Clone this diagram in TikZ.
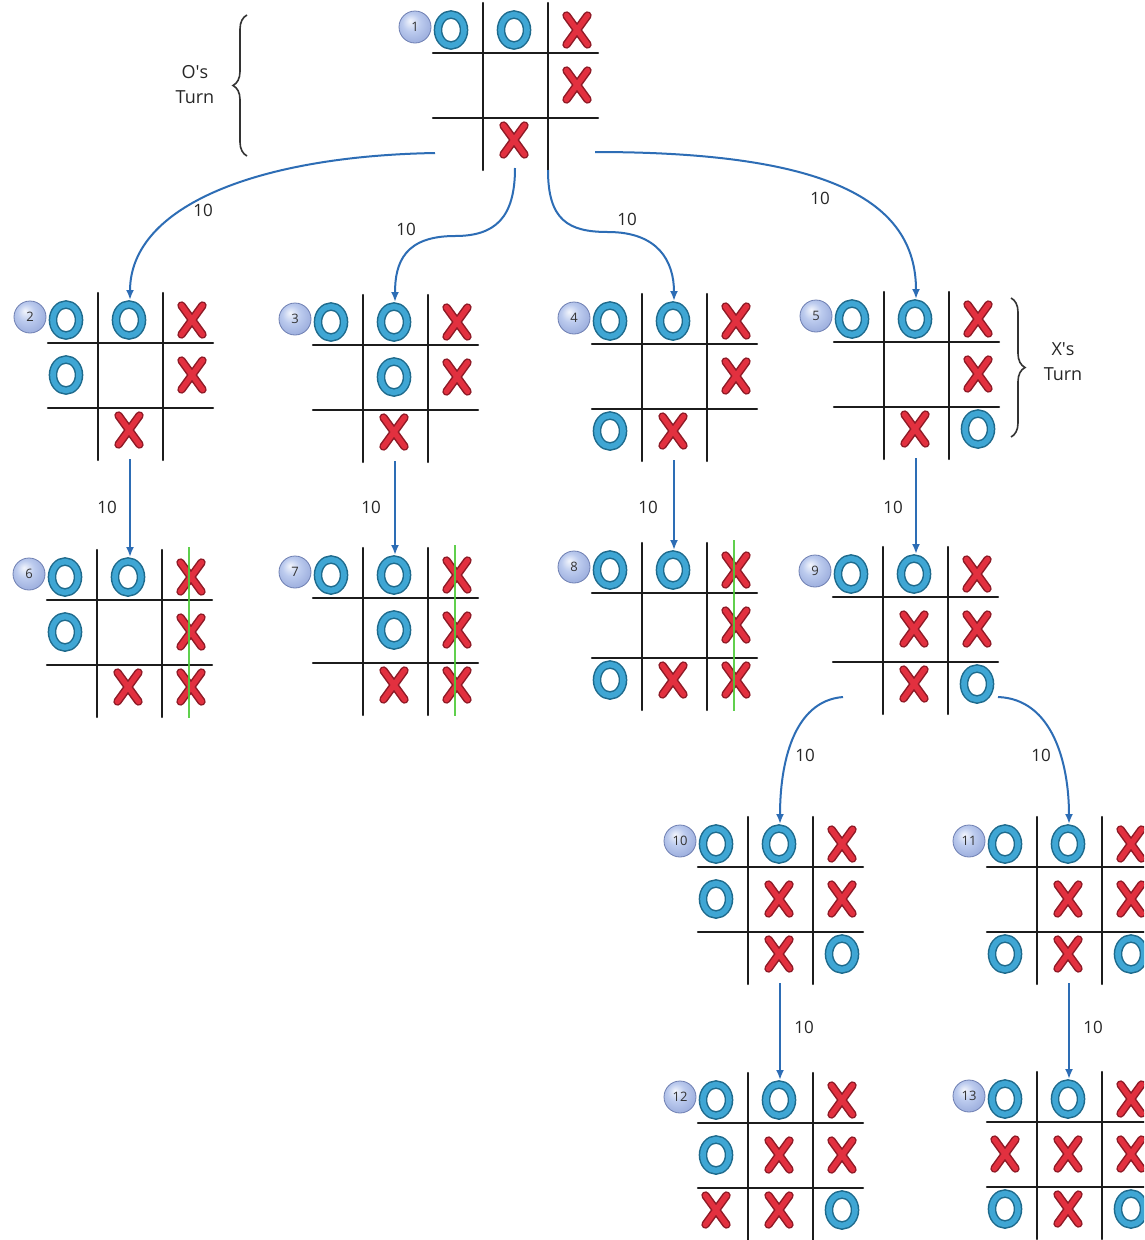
\documentclass[tikz,border=0pt]{standalone}
\usepackage{fontspec}
\setmainfont{Open Sans}
\usetikzlibrary{arrows.meta,decorations.pathreplacing}

\definecolor{oedge}{HTML}{1E6A8C}
\definecolor{ofill}{HTML}{3FA6D4}
\definecolor{xedge}{HTML}{8E1A26}
\definecolor{xfill}{HTML}{E2303F}
\definecolor{gridc}{HTML}{1C1C1C}
\definecolor{arrc}{HTML}{2D6DB5}
\definecolor{winc}{HTML}{4FCB3A}
\definecolor{bubA}{HTML}{F2F5FC}
\definecolor{bubB}{HTML}{BCCBEE}
\definecolor{bubC}{HTML}{98AADB}
\definecolor{bubEdge}{HTML}{6E7FB2}

\pgfdeclareradialshading{bubbleshade}{\pgfpoint{-8bp}{10bp}}{color(0bp)=(bubA); color(14bp)=(bubB); color(32bp)=(bubC); color(50bp)=(bubC)}

% one O mark centred at (#1,#2)
\newcommand\tttO[2]{%
  \draw[draw=oedge, line width=8.6pt] (#1,#2) ellipse [x radius=13, y radius=15.5];
  \draw[draw=ofill, line width=5.6pt] (#1,#2) ellipse [x radius=13, y radius=15.5];}
% one X mark centred at (#1,#2)
\newcommand\tttX[2]{%
  \draw[draw=xedge, line width=8.4pt, line cap=round] (#1-10.5,#2-14.5) -- (#1+10.5,#2+14.5) (#1-10.5,#2+14.5) -- (#1+10.5,#2-14.5);
  \draw[draw=xfill, line width=5.4pt, line cap=round] (#1-10.5,#2-14.5) -- (#1+10.5,#2+14.5) (#1-10.5,#2+14.5) -- (#1+10.5,#2-14.5);}

% board: #1 name, (#2,#3) crossing of the first grid lines, #4 step number, #5 marks as type/column/row
\newcommand\tttboard[5]{%
  \begin{scope}[shift={(#2,#3)}]
    \draw[gridline] (0,-50) -- (0,117) (65,-50) -- (65,117) (-50,0) -- (115,0) (-50,65) -- (115,65);
    \foreach \m/\c/\r in {#5}{%
      \pgfmathsetmacro\mx{-32+63*(\c-1)}%
      \pgfmathsetmacro\my{-23+55*(\r-1)}%
      \csname ttt\m\endcsname{\mx}{\my}}
    \node[bubble] (#1-num) at (-68,-26) {#4};
    \coordinate (#1-top) at (32,-43);
    \coordinate (#1-bot) at (32,116);
    \coordinate (#1-wt) at (92,-53);
    \coordinate (#1-wb) at (92,118);
  \end{scope}}

\begin{document}
\begin{tikzpicture}[x=1pt,y=-1pt,
  gridline/.style={draw=gridc, line width=2.2pt, line cap=round},
  bubble/.style={circle, draw=bubEdge, line width=0.8pt, shading=bubbleshade, minimum size=32pt, inner sep=0pt, font=\fontsize{13}{13}\selectfont, text=black!80},
  conn/.style={draw=arrc, line width=2pt, -{Latex[length=10pt,width=8pt]}},
  lbl/.style={font=\fontsize{17}{20}\selectfont, text=black!85, inner sep=0pt},
  turn/.style={font=\fontsize{18}{25}\selectfont, text=black!85, align=center, inner sep=0pt},
  bracec/.style={draw=black!80, line width=1.6pt, decorate, decoration={brace, amplitude=14pt}},
  winline/.style={draw=winc, line width=2.6pt, opacity=0.9},
]
\clip (0,0) rectangle (1144,1240);
\fill[white] (0,0) rectangle (1144,1240);

% game states
\tttboard{b1}{483}{53}{1}{O/1/1, O/2/1, X/3/1, X/3/2, X/2/3}
\tttboard{b2}{98}{343}{2}{O/1/1, O/2/1, X/3/1, O/1/2, X/3/2, X/2/3}
\tttboard{b3}{363}{345}{3}{O/1/1, O/2/1, X/3/1, O/2/2, X/3/2, X/2/3}
\tttboard{b4}{642}{344}{4}{O/1/1, O/2/1, X/3/1, X/3/2, O/1/3, X/2/3}
\tttboard{b5}{884}{342}{5}{O/1/1, O/2/1, X/3/1, X/3/2, X/2/3, O/3/3}
\tttboard{b6}{97}{600}{6}{O/1/1, O/2/1, X/3/1, O/1/2, X/3/2, X/2/3, X/3/3}
\tttboard{b7}{363}{598}{7}{O/1/1, O/2/1, X/3/1, O/2/2, X/3/2, X/2/3, X/3/3}
\tttboard{b8}{642}{593}{8}{O/1/1, O/2/1, X/3/1, X/3/2, O/1/3, X/2/3, X/3/3}
\tttboard{b9}{883}{597}{9}{O/1/1, O/2/1, X/3/1, X/2/2, X/3/2, X/2/3, O/3/3}
\tttboard{b10}{748}{867}{10}{O/1/1, O/2/1, X/3/1, O/1/2, X/2/2, X/3/2, X/2/3, O/3/3}
\tttboard{b11}{1037}{867}{11}{O/1/1, O/2/1, X/3/1, X/2/2, X/3/2, O/1/3, X/2/3, O/3/3}
\tttboard{b12}{748}{1123}{12}{O/1/1, O/2/1, X/3/1, O/1/2, X/2/2, X/3/2, X/1/3, X/2/3, O/3/3}
\tttboard{b13}{1037}{1122}{13}{O/1/1, O/2/1, X/3/1, X/1/2, X/2/2, X/3/2, O/1/3, X/2/3, O/3/3}

% winning lines
\draw[winline] (b6-wt) -- (b6-wb);
\draw[winline] (b7-wt) -- (b7-wb);
\draw[winline] (b8-wt) -- (b8-wb);

% connector end points
\coordinate (s12) at (435,153);
\coordinate (s13) at (515,168);
\coordinate (s14) at (548,170);
\coordinate (s15) at (595,152);
\coordinate (k13) at (455,236);
\coordinate (k14) at (608,232);
\coordinate (s910) at (843,697);
\coordinate (s911) at (998,697);

% moves
\draw[conn] (s12) .. controls +(-175,3) and +(0,-95) .. (b2-top);
\draw[conn] (s13) .. controls +(0,50) and +(40,0) .. (k13) .. controls +(-50,0) and +(0,-40) .. (b3-top);
\draw[conn] (s14) .. controls +(0,50) and +(-40,0) .. (k14) .. controls +(50,0) and +(0,-40) .. (b4-top);
\draw[conn] (s15) .. controls +(230,0) and +(0,-100) .. (b5-top);
\draw[conn] (b2-bot) -- (b2-bot |- b6-top);
\draw[conn] (b3-bot) -- (b3-bot |- b7-top);
\draw[conn] (b4-bot) -- (b4-bot |- b8-top);
\draw[conn] (b5-bot) -- (b5-bot |- b9-top);
\draw[conn] (s910) .. controls +(-50,4) and +(0,-60) .. (b10-top);
\draw[conn] (s911) .. controls +(55,2) and +(0,-60) .. (b11-top);
\draw[conn] (b10-bot) -- (b10-bot |- b12-top);
\draw[conn] (b11-bot) -- (b11-bot |- b13-top);

% scores
\node[lbl] (n12) at (203,210) {10};
\node[lbl] (n13) at (406,229) {10};
\node[lbl] (n14) at (627,219) {10};
\node[lbl] (n15) at (820,198) {10};
\node[lbl] (n26) at (107,507) {10};
\node[lbl] (n37) at (371,507) {10};
\node[lbl] (n48) at (648,507) {10};
\node[lbl] (n59) at (893,507) {10};
\node[lbl] (n910) at (805,755) {10};
\node[lbl] (n911) at (1041,755) {10};
\node[lbl] (n1012) at (804,1027) {10};
\node[lbl] (n1113) at (1093,1027) {10};

% whose turn
\coordinate (ob1) at (247,156);
\coordinate (ob2) at (247,15);
\draw[bracec] (ob1) -- (ob2);
\node[turn] (oturn) at (195,85) {O\textquotesingle s\\Turn};
\coordinate (xb1) at (1011,298);
\coordinate (xb2) at (1011,437);
\draw[bracec] (xb1) -- (xb2);
\node[turn] (xturn) at (1063,362) {X\textquotesingle s\\Turn};
\end{tikzpicture}
\end{document}
